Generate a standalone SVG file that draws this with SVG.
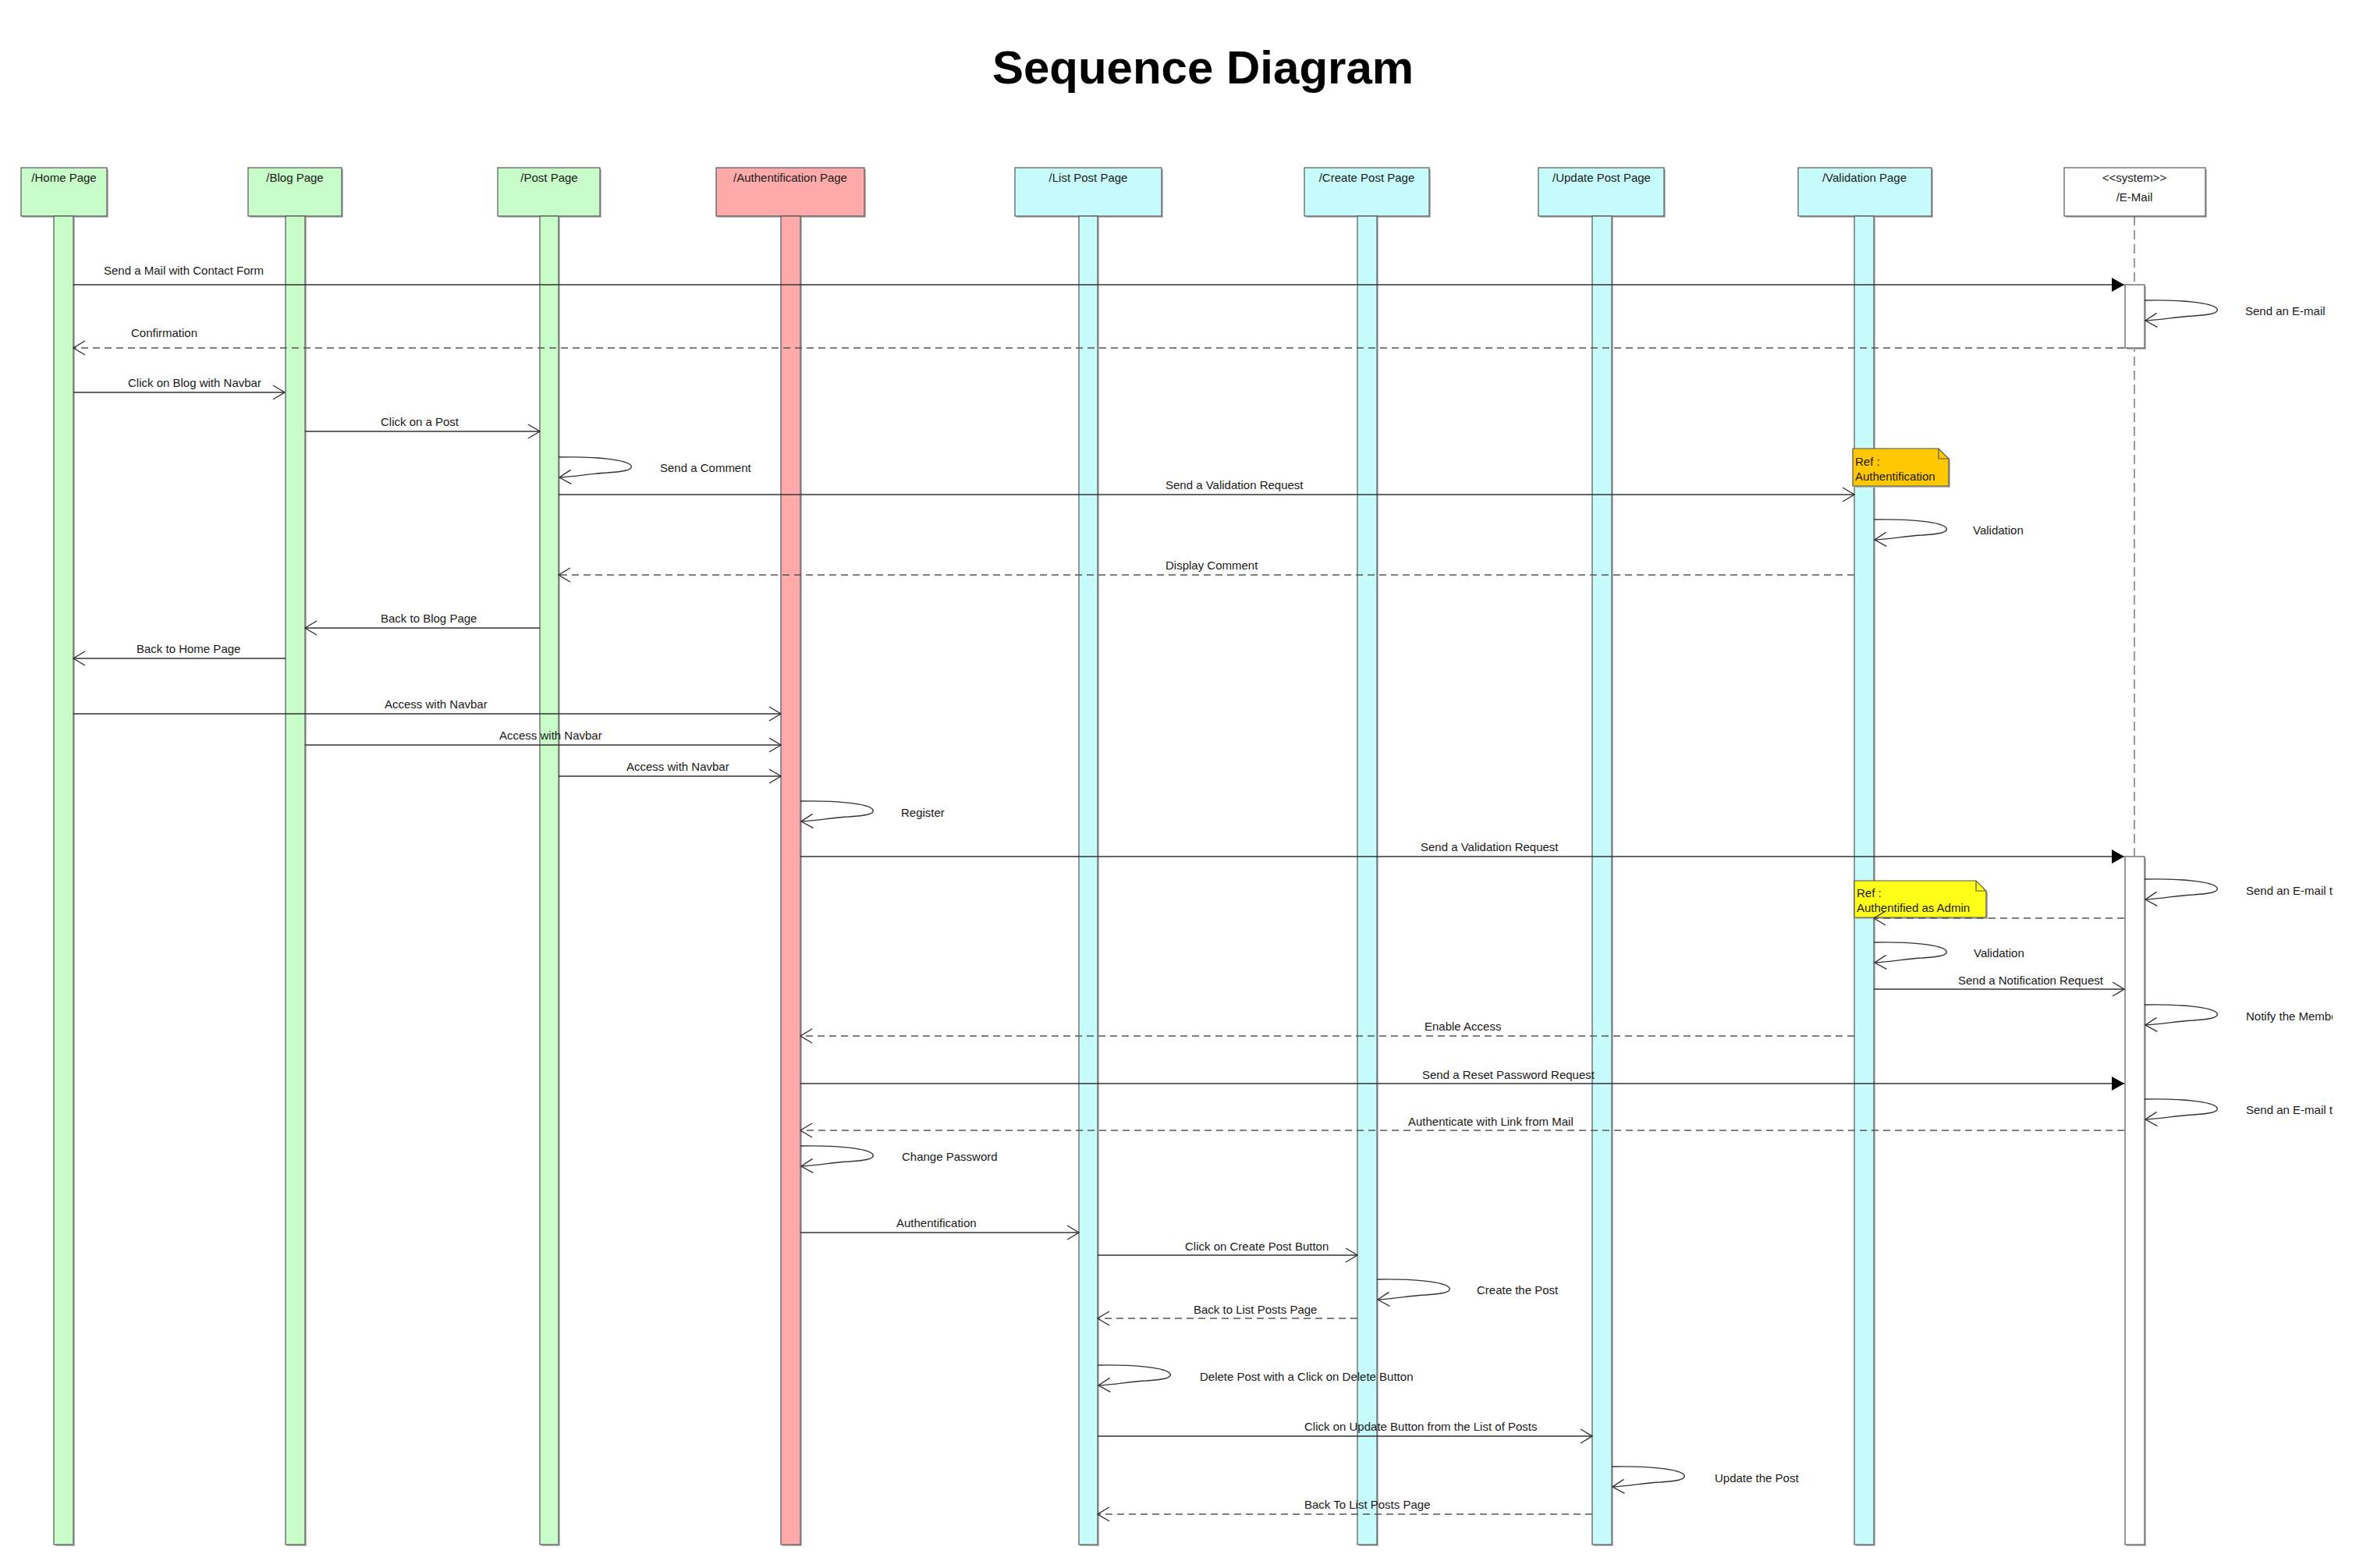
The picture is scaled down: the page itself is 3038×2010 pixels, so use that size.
<svg xmlns="http://www.w3.org/2000/svg" xmlns:xlink="http://www.w3.org/1999/xlink" width="3038" height="2010" viewBox="0 0 3038 2010">
<style>
text{font-family:"Liberation Sans",Arial,sans-serif;font-size:15px;fill:#1a1a1a}
.title{font-size:60px;font-weight:bold;fill:#000}
.hd{text-anchor:middle}
.box{stroke:#555;stroke-width:1.2}
.sh{fill:#b8b8b8}
.g{fill:#c8fcc8}
.p{fill:#ffabab}
.c{fill:#c8fcfc}
.w{fill:#fff}
.msg{fill:none;stroke:#333;stroke-width:1.4}
.ret{fill:none;stroke:#555;stroke-width:1.4;stroke-dasharray:9 6}
.life{fill:none;stroke:#666;stroke-width:1.3;stroke-dasharray:12 6}
</style>
<defs>
<marker id="open" viewBox="0 0 17 20" refX="16" refY="10" markerWidth="17" markerHeight="20" markerUnits="userSpaceOnUse" orient="auto">
<path d="M1 1 L16 10 L1 19" fill="none" stroke="#333" stroke-width="1.4"/>
</marker>
<marker id="fill" viewBox="0 0 16 18" refX="16" refY="9" markerWidth="16" markerHeight="18" markerUnits="userSpaceOnUse" orient="auto">
<path d="M0 0 L16 9 L0 18 Z" fill="#000"/>
</marker>
<path id="loop" d="M0 0 C45 -1 88 3 93 11 C96 18 75 19 62 20 C42 21 22 25 1 26" fill="none" stroke="#333" stroke-width="1.4" marker-end="url(#open)"/>
<clipPath id="edge"><rect x="0" y="0" width="2990" height="2010"/></clipPath>
</defs>
<rect width="3038" height="2010" fill="#fff"/>
<text class="title" x="1542" y="107" text-anchor="middle">Sequence Diagram</text>

<g id="home">
<rect class="sh" x="29" y="217" width="110" height="62"/>
<rect class="box g" x="27" y="215" width="110" height="62"/>
<text class="hd" x="82" y="233">/Home Page</text>
<rect class="sh" x="71" y="279" width="25" height="1703"/>
<rect class="box g" x="69" y="277" width="25" height="1703"/>
</g>
<g id="blog">
<rect class="sh" x="320" y="217" width="120" height="62"/>
<rect class="box g" x="318" y="215" width="120" height="62"/>
<text class="hd" x="378" y="233">/Blog Page</text>
<rect class="sh" x="368" y="279" width="25" height="1703"/>
<rect class="box g" x="366" y="277" width="25" height="1703"/>
</g>
<g id="post">
<rect class="sh" x="640" y="217" width="131" height="62"/>
<rect class="box g" x="638" y="215" width="131" height="62"/>
<text class="hd" x="704" y="233">/Post Page</text>
<rect class="sh" x="694" y="279" width="24" height="1703"/>
<rect class="box g" x="692" y="277" width="24" height="1703"/>
</g>
<g id="auth">
<rect class="sh" x="920" y="217" width="190" height="62"/>
<rect class="box p" x="918" y="215" width="190" height="62"/>
<text class="hd" x="1013" y="233">/Authentification Page</text>
<rect class="sh" x="1003" y="279" width="25" height="1703"/>
<rect class="box p" x="1001" y="277" width="25" height="1703"/>
</g>
<g id="listpost">
<rect class="sh" x="1303" y="217" width="188" height="62"/>
<rect class="box c" x="1301" y="215" width="188" height="62"/>
<text class="hd" x="1395" y="233">/List Post Page</text>
<rect class="sh" x="1385" y="279" width="24" height="1703"/>
<rect class="box c" x="1383" y="277" width="24" height="1703"/>
</g>
<g id="createpost">
<rect class="sh" x="1674" y="217" width="160" height="62"/>
<rect class="box c" x="1672" y="215" width="160" height="62"/>
<text class="hd" x="1752" y="233">/Create Post Page</text>
<rect class="sh" x="1742" y="279" width="25" height="1703"/>
<rect class="box c" x="1740" y="277" width="25" height="1703"/>
</g>
<g id="updatepost">
<rect class="sh" x="1974" y="217" width="161" height="62"/>
<rect class="box c" x="1972" y="215" width="161" height="62"/>
<text class="hd" x="2053" y="233">/Update Post Page</text>
<rect class="sh" x="2043" y="279" width="25" height="1703"/>
<rect class="box c" x="2041" y="277" width="25" height="1703"/>
</g>
<g id="validation">
<rect class="sh" x="2307" y="217" width="171" height="62"/>
<rect class="box c" x="2305" y="215" width="171" height="62"/>
<text class="hd" x="2390" y="233">/Validation Page</text>
<rect class="sh" x="2379" y="279" width="25" height="1703"/>
<rect class="box c" x="2377" y="277" width="25" height="1703"/>
</g>
<g id="email">
<rect class="sh" x="2648" y="217" width="181" height="62"/>
<rect class="box w" x="2646" y="215" width="181" height="62"/>
<text class="hd" x="2736" y="233">&lt;&lt;system&gt;&gt;</text>
<text class="hd" x="2736" y="258">/E-Mail</text>
<path class="life" d="M2736 277 V1980"/>
<rect class="sh" x="2726" y="367" width="25" height="81"/>
<rect class="box w" x="2724" y="365" width="25" height="81"/>
<rect class="sh" x="2726" y="1100" width="25" height="882"/>
<rect class="box w" x="2724" y="1098" width="25" height="882"/>
</g>

<g id="note-authentification">
<path d="M2377 577 H2487 L2500 590 V625 H2377 Z" fill="#b8b8b8"/>
<path d="M2375 575 H2485 L2498 588 V623 H2375 Z" fill="#ffc800" stroke="#555" stroke-width="1.2"/>
<path d="M2485 575 V588 H2498" fill="none" stroke="#555" stroke-width="1.2"/>
<text x="2378" y="597">Ref :</text>
<text x="2378" y="616">Authentification</text>
</g>
<g id="note-admin">
<path d="M2379 1131 H2535 L2548 1144 V1178 H2379 Z" fill="#b8b8b8"/>
<path d="M2377 1129 H2533 L2546 1142 V1176 H2377 Z" fill="#ffff1a" stroke="#555" stroke-width="1.2"/>
<path d="M2533 1129 V1142 H2546" fill="none" stroke="#555" stroke-width="1.2"/>
<text x="2380" y="1150">Ref :</text>
<text x="2380" y="1169">Authentified as Admin</text>
</g>

<g id="connectors">
<path class="msg" d="M94 365 H2723" marker-end="url(#fill)"/>
<path class="msg" d="M1026 1098 H2723" marker-end="url(#fill)"/>
<path class="msg" d="M1026 1389 H2723" marker-end="url(#fill)"/>

<path class="msg" d="M94 503 H365" marker-end="url(#open)"/>
<path class="msg" d="M391 553 H692" marker-end="url(#open)"/>
<path class="msg" d="M716 634 H2377" marker-end="url(#open)"/>
<path class="msg" d="M692 805 H391" marker-end="url(#open)"/>
<path class="msg" d="M366 844 H94" marker-end="url(#open)"/>
<path class="msg" d="M94 915 H1001" marker-end="url(#open)"/>
<path class="msg" d="M391 955 H1001" marker-end="url(#open)"/>
<path class="msg" d="M716 995 H1001" marker-end="url(#open)"/>
<path class="msg" d="M2402 1268 H2723" marker-end="url(#open)"/>
<path class="msg" d="M1026 1580 H1383" marker-end="url(#open)"/>
<path class="msg" d="M1407 1609 H1740" marker-end="url(#open)"/>
<path class="msg" d="M1407 1841 H2041" marker-end="url(#open)"/>

<path class="ret" d="M2723 446 H94" marker-end="url(#open)"/>
<path class="ret" d="M2377 737 H716" marker-end="url(#open)"/>
<path class="ret" d="M2723 1177 H2402" marker-end="url(#open)"/>
<path class="ret" d="M2377 1328 H1026" marker-end="url(#open)"/>
<path class="ret" d="M2723 1449 H1026" marker-end="url(#open)"/>
<path class="ret" d="M1740 1690 H1407" marker-end="url(#open)"/>
<path class="ret" d="M2041 1941 H1407" marker-end="url(#open)"/>

<use xlink:href="#loop" href="#loop" x="2749" y="385"/>
<use xlink:href="#loop" href="#loop" x="716" y="586"/>
<use xlink:href="#loop" href="#loop" x="2402" y="666"/>
<use xlink:href="#loop" href="#loop" x="1026" y="1027"/>
<use xlink:href="#loop" href="#loop" x="2749" y="1127"/>
<use xlink:href="#loop" href="#loop" x="2402" y="1208"/>
<use xlink:href="#loop" href="#loop" x="2749" y="1288"/>
<use xlink:href="#loop" href="#loop" x="2749" y="1409"/>
<use xlink:href="#loop" href="#loop" x="1026" y="1469"/>
<use xlink:href="#loop" href="#loop" x="1765" y="1640"/>
<use xlink:href="#loop" href="#loop" x="1407" y="1750"/>
<use xlink:href="#loop" href="#loop" x="2066" y="1880"/>

<text x="133" y="352">Send a Mail with Contact Form</text>
<text x="2878" y="404">Send an E-mail</text>
<text x="168" y="432">Confirmation</text>
<text x="164" y="496">Click on Blog with Navbar</text>
<text x="488" y="546">Click on a Post</text>
<text x="846" y="605">Send a Comment</text>
<text x="1494" y="627">Send a Validation Request</text>
<text x="2529" y="685">Validation</text>
<text x="1494" y="730">Display Comment</text>
<text x="488" y="798">Back to Blog Page</text>
<text x="175" y="837">Back to Home Page</text>
<text x="493" y="908">Access with Navbar</text>
<text x="640" y="948">Access with Navbar</text>
<text x="803" y="988">Access with Navbar</text>
<text x="1155" y="1047">Register</text>
<text x="1821" y="1091">Send a Validation Request</text>
<text x="2879" y="1147" clip-path="url(#edge)">Send an E-mail t</text>
<text x="2530" y="1227">Validation</text>
<text x="2510" y="1262">Send a Notification Request</text>
<text x="2879" y="1308" clip-path="url(#edge)">Notify the Membe</text>
<text x="1826" y="1321">Enable Access</text>
<text x="1823" y="1383">Send a Reset Password Request</text>
<text x="2879" y="1428" clip-path="url(#edge)">Send an E-mail t</text>
<text x="1805" y="1443">Authenticate with Link from Mail</text>
<text x="1156" y="1488">Change Password</text>
<text x="1149" y="1573">Authentification</text>
<text x="1519" y="1603">Click on Create Post Button</text>
<text x="1893" y="1659">Create the Post</text>
<text x="1530" y="1684">Back to List Posts Page</text>
<text x="1538" y="1770">Delete Post with a Click on Delete Button</text>
<text x="1672" y="1834">Click on Update Button from the List of Posts</text>
<text x="2198" y="1900">Update the Post</text>
<text x="1672" y="1934">Back To List Posts Page</text>
</g>
</svg>
